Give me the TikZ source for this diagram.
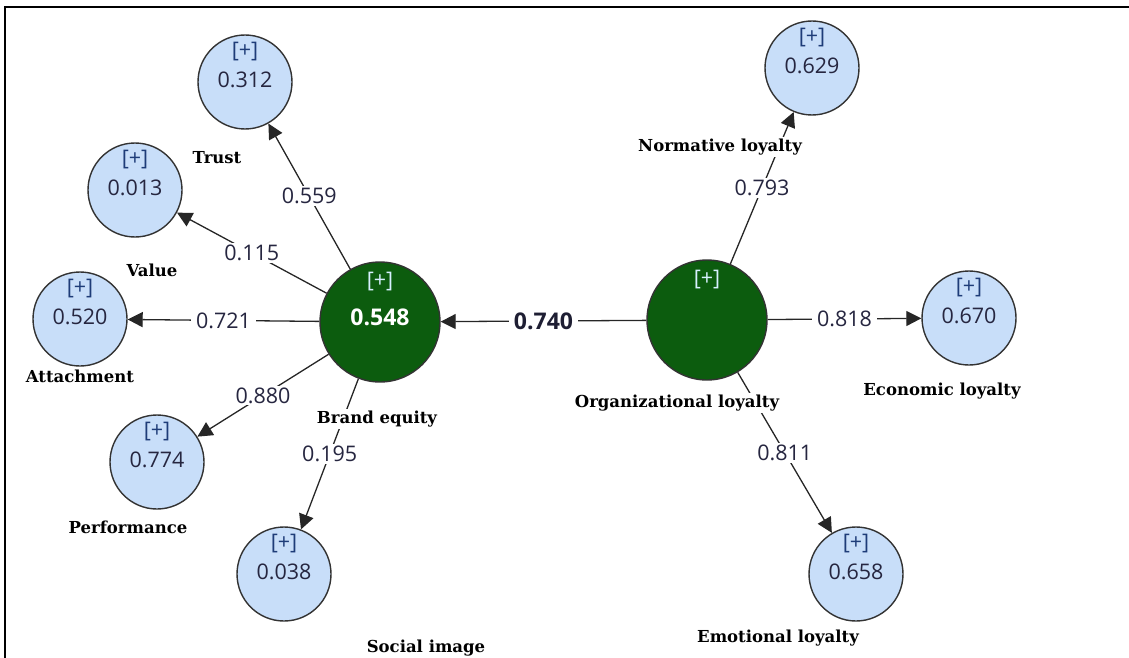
\documentclass[tikz,border=0pt]{standalone}
\usepackage{fontspec}
\setmainfont{Open Sans}
\newfontfamily\lblfont{DejaVu Serif}
\usetikzlibrary{arrows.meta}

\definecolor{indfill}{RGB}{200,222,249}
\definecolor{lvgreen}{RGB}{12,92,14}
\definecolor{numcol}{RGB}{38,38,64}
\definecolor{pluscol}{RGB}{30,60,120}
\definecolor{lvplustxt}{RGB}{215,240,255}

% indicator circle with its [+] marker and R^2 value
\newcommand{\indicator}[4]{%
  \node[ind] (#1) at (#2,#3) {};
  \node[plus] (#1p) at ([yshift=30pt]#1.center) {[+]};
  \node[txt]  (#1v) at ([yshift=2pt]#1.center) {#4};
}

\begin{document}
\begin{tikzpicture}[x=1pt,y=-1pt,
  ind/.style={circle, draw=black!80, line width=1.4pt, fill=indfill, minimum size=94pt, inner sep=0pt},
  lv/.style={circle, draw=black!80, line width=1.4pt, fill=lvgreen, minimum size=120pt, inner sep=0pt},
  txt/.style={inner sep=0pt, font=\fontsize{21.5}{21.5}\selectfont, text=numcol},
  plus/.style={txt, text=pluscol},
  lvplus/.style={txt, text=lvplustxt},
  lvval/.style={inner sep=0pt, font=\fontsize{23}{23}\selectfont\bfseries, text=white},
  conn/.style={draw=black!85, line width=1.3pt, -{Triangle[length=15pt,width=15pt]}},
  coef/.style={fill=white, inner xsep=5pt, inner ysep=2pt, font=\fontsize{21.5}{21.5}\selectfont, text=numcol},
  coefbold/.style={coef, font=\fontsize{23}{23}\selectfont\bfseries, text=numcol!80!black},
  cname/.style={fill=white, inner sep=1.5pt, font=\lblfont\bfseries\fontsize{16.5}{16.5}\selectfont, text=black}
]
\useasboundingbox (0,0) rectangle (1129,658);

% frame
\draw[line width=2.5pt] (1129,7) -- (5,7) -- (5,658);

% latent variables
\node[lv] (be) at (380,322) {};
\node[lvplus] (bep) at ([yshift=40pt]be.center) {[+]};
\node[lvval] (bev) at ([yshift=5pt]be.center) {0.548};
\node[lv] (ol) at (707,320) {};
\node[lvplus] (olp) at ([yshift=40pt]ol.center) {[+]};

% indicators
\indicator{tr}{245}{82}{0.312}
\indicator{va}{135}{190}{0.013}
\indicator{at}{80}{319}{0.520}
\indicator{pe}{157}{462}{0.774}
\indicator{si}{284}{574}{0.038}
\indicator{no}{812}{68}{0.629}
\indicator{ec}{969}{318}{0.670}
\indicator{em}{856}{574}{0.658}

% paths
\draw[conn] (be) -- node[coef] (c1) {0.559} (tr);
\draw[conn] (be) -- node[coef] (c2) {0.115} (va);
\draw[conn] (be) -- node[coef] (c3) {0.721} (at);
\draw[conn] (be) -- node[coef] (c4) {0.880} (pe);
\draw[conn] (be) -- node[coef] (c5) {0.195} (si);
\draw[conn] (ol) -- node[coefbold] (c6) {0.740} (be);
\draw[conn] (ol) -- node[coef] (c7) {0.793} (no);
\draw[conn] (ol) -- node[coef] (c8) {0.818} (ec);
\draw[conn] (ol) -- node[coef] (c9) {0.811} (em);

% construct names
\node[cname] (ntr) at (217,158) {Trust};
\node[cname] (nva) at (152,270) {Value};
\node[cname] (nat) at (80,376) {Attachment};
\node[cname] (npe) at (128,527) {Performance};
\node[cname] (nbe) at (377,419) {Brand equity};
\node[cname] (nsi) at (426,648) {Social image};
\node[cname] (nno) at (720,147) {Normative loyalty};
\node[cname] (nol) at (677,403) {Organizational loyalty};
\node[cname] (nec) at (942,391) {Economic loyalty};
\node[cname] (nem) at (778,638) {Emotional loyalty};
\end{tikzpicture}
\end{document}
